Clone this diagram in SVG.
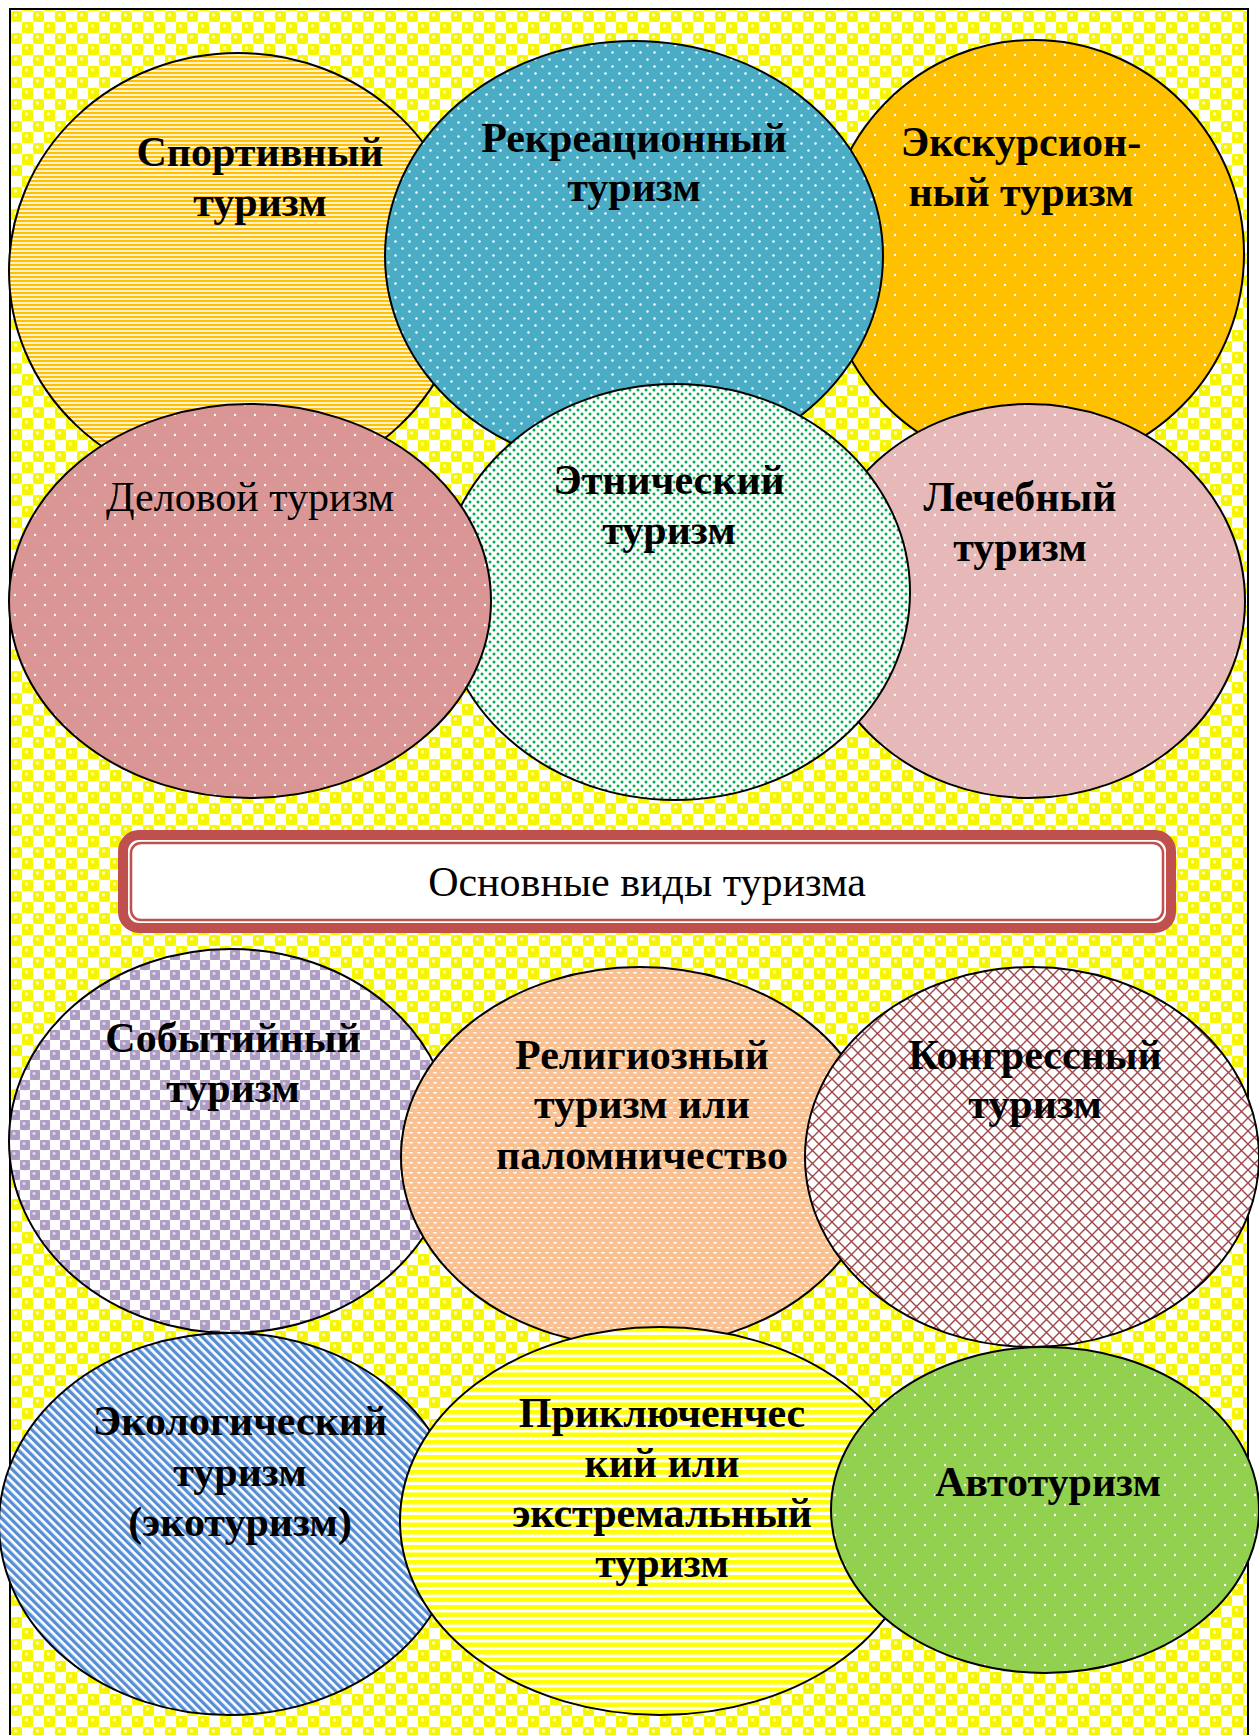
<svg xmlns="http://www.w3.org/2000/svg" width="1259" height="1735" viewBox="0 0 1259 1735">
<defs>
<pattern id="bgSph" width="22" height="22" patternUnits="userSpaceOnUse">
<rect width="22" height="22" fill="#ffffff"/>
<rect x="0" y="0" width="11" height="11" fill="#ffff00"/>
<rect x="11" y="11" width="11" height="11" fill="#ffff00"/>
<circle cx="5.5" cy="5.5" r="5.8" fill="#f5f500"/>
<circle cx="16.5" cy="16.5" r="5.8" fill="#f5f500"/>
<circle cx="4.5" cy="4" r="1.7" fill="#ffffb0"/>
<circle cx="15.5" cy="15" r="1.7" fill="#ffffb0"/>
</pattern>
<pattern id="purSph" width="20" height="20" patternUnits="userSpaceOnUse">
<rect width="20" height="20" fill="#ffffff"/>
<rect x="0" y="0" width="10" height="10" fill="#b8a8cc"/>
<rect x="10" y="10" width="10" height="10" fill="#b8a8cc"/>
<circle cx="5" cy="5" r="5.2" fill="#ad9cc4"/>
<circle cx="15" cy="15" r="5.2" fill="#ad9cc4"/>
<circle cx="4" cy="3.5" r="1.6" fill="#e0d8ea"/>
<circle cx="14" cy="13.5" r="1.6" fill="#e0d8ea"/>
</pattern>
<pattern id="orStripe" width="8" height="4" patternUnits="userSpaceOnUse">
<rect width="8" height="4" fill="#fff2cc"/>
<rect y="0" width="8" height="2" fill="#ffc000"/>
</pattern>
<pattern id="blueDot" width="14" height="14" patternUnits="userSpaceOnUse">
<rect width="14" height="14" fill="#4bacc6"/>
<circle cx="3.5" cy="3.5" r="1.2" fill="#ffffff"/>
<circle cx="10.5" cy="10.5" r="1.2" fill="#ffffff"/>
</pattern>
<pattern id="orDot" width="20" height="20" patternUnits="userSpaceOnUse">
<rect width="20" height="20" fill="#ffc000"/>
<circle cx="5" cy="5" r="1.2" fill="#ffffff"/>
<circle cx="15" cy="15" r="1.2" fill="#ffffff"/>
</pattern>
<pattern id="roseDot" width="20" height="20" patternUnits="userSpaceOnUse">
<rect width="20" height="20" fill="#d99694"/>
<circle cx="5" cy="5" r="1.2" fill="#ffffff"/>
<circle cx="15" cy="15" r="1.2" fill="#ffffff"/>
</pattern>
<pattern id="pinkDot" width="20" height="20" patternUnits="userSpaceOnUse">
<rect width="20" height="20" fill="#e6b9b8"/>
<circle cx="5" cy="5" r="1.2" fill="#ffffff"/>
<circle cx="15" cy="15" r="1.2" fill="#ffffff"/>
</pattern>
<pattern id="greenDot" width="20" height="20" patternUnits="userSpaceOnUse">
<rect width="20" height="20" fill="#92d050"/>
<circle cx="5" cy="5" r="1.2" fill="#ffffff"/>
<circle cx="15" cy="15" r="1.2" fill="#ffffff"/>
</pattern>
<pattern id="ethDot" width="8" height="8" patternUnits="userSpaceOnUse">
<rect width="8" height="8" fill="#ffffff"/>
<circle cx="2" cy="2" r="1.5" fill="#00b050"/>
<circle cx="6" cy="6" r="1.5" fill="#00b050"/>
</pattern>
<pattern id="peachDash" width="8" height="10" patternUnits="userSpaceOnUse">
<rect width="8" height="10" fill="#fac090"/>
<rect x="1" y="2" width="4" height="1.6" rx="0.8" fill="#ffffff"/>
<rect x="5" y="7" width="4" height="1.6" rx="0.8" fill="#ffffff"/>
<rect x="-3" y="7" width="4" height="1.6" rx="0.8" fill="#ffffff"/>
</pattern>
<pattern id="trellis" width="13" height="13" patternUnits="userSpaceOnUse">
<rect width="13" height="13" fill="#ffffff"/>
<path d="M0 0 L13 13 M13 0 L0 13" stroke="#a0464a" stroke-width="1.4"/>
</pattern>
<pattern id="blueDiag" width="6" height="6" patternUnits="userSpaceOnUse" patternTransform="rotate(-45)">
<rect width="6" height="6" fill="#ffffff"/>
<rect width="3.3" height="6" fill="#558ed5"/>
</pattern>
<pattern id="yelStripe" width="8" height="7.5" patternUnits="userSpaceOnUse">
<rect width="8" height="7.5" fill="#ffffff"/>
<rect width="8" height="4.5" fill="#ffff00"/>
</pattern>
</defs>
<style>
.el{stroke:#000;stroke-width:2}
.t{font-family:"Liberation Serif","Times New Roman",serif;font-weight:bold;font-size:42px;text-anchor:middle;fill:#000}
.r{font-family:"Liberation Serif","Times New Roman",serif;font-size:42px;text-anchor:middle;fill:#000}
</style>
<rect x="0" y="0" width="1259" height="1735" fill="#ffffff"/>
<rect x="10" y="9" width="1238" height="1740" fill="url(#bgSph)" stroke="#000" stroke-width="2"/>

<g id="sport"><ellipse class="el" cx="238" cy="271" rx="229" ry="218" fill="url(#orStripe)"/>
<text class="t" x="260" y="166">Спортивный</text><text class="t" x="260" y="216">туризм</text></g>
<g id="excurs"><ellipse class="el" cx="1034" cy="254" rx="210" ry="214" fill="url(#orDot)"/>
<text class="t" x="1021" y="156">Экскурсион-</text><text class="t" x="1021" y="206">ный туризм</text></g>
<g id="recr"><ellipse class="el" cx="634" cy="256" rx="249" ry="215" fill="url(#blueDot)"/>
<text class="t" x="634" y="152">Рекреационный</text><text class="t" x="634" y="201">туризм</text></g>
<g id="lech"><ellipse class="el" cx="1029" cy="601" rx="216" ry="197" fill="url(#pinkDot)"/>
<text class="t" x="1020" y="511">Лечебный</text><text class="t" x="1020" y="561">туризм</text></g>
<g id="ethn"><ellipse class="el" cx="675" cy="592" rx="235" ry="208" fill="url(#ethDot)"/>
<text class="t" x="669" y="494">Этнический</text><text class="t" x="669" y="544">туризм</text></g>
<g id="delov"><ellipse class="el" cx="250" cy="601" rx="241" ry="197" fill="url(#roseDot)"/>
<text class="r" x="250" y="511">Деловой туризм</text></g>

<g id="banner">
<rect x="123" y="835" width="1048" height="93" rx="16" fill="#ffffff" stroke="#c0504d" stroke-width="10"/>
<rect x="131" y="843" width="1032" height="77" rx="10" fill="none" stroke="#c0504d" stroke-width="2.5"/>
<text class="r" x="647" y="896">Основные виды туризма</text>
</g>

<g id="sobyt"><ellipse class="el" cx="231" cy="1141" rx="222" ry="192" fill="url(#purSph)"/>
<text class="t" x="233" y="1052">Событийный</text><text class="t" x="233" y="1102">туризм</text></g>
<g id="relig"><ellipse class="el" cx="640" cy="1157" rx="239" ry="190" fill="url(#peachDash)"/>
<text class="t" x="642" y="1069">Религиозный</text><text class="t" x="642" y="1118">туризм или</text><text class="t" x="642" y="1169">паломничество</text></g>
<g id="kongr"><ellipse class="el" cx="1032" cy="1157" rx="227" ry="190" fill="url(#trellis)"/>
<text class="t" x="1035" y="1069">Конгрессный</text><text class="t" x="1035" y="1118">туризм</text></g>
<g id="ekol"><ellipse class="el" cx="229" cy="1524" rx="230" ry="191" fill="url(#blueDiag)"/>
<text class="t" x="240" y="1435">Экологический</text><text class="t" x="240" y="1486">туризм</text><text class="t" x="240" y="1536">(экотуризм)</text></g>
<g id="prikl"><ellipse class="el" cx="660" cy="1521" rx="260" ry="194" fill="url(#yelStripe)"/>
<text class="t" x="662" y="1427">Приключенчес</text><text class="t" x="662" y="1477">кий или</text><text class="t" x="662" y="1527">экстремальный</text><text class="t" x="662" y="1577">туризм</text></g>
<g id="avto"><ellipse class="el" cx="1045" cy="1510" rx="214" ry="163" fill="url(#greenDot)"/>
<text class="t" x="1048" y="1496">Автотуризм</text></g>
<g id="connectors"/>
</svg>
